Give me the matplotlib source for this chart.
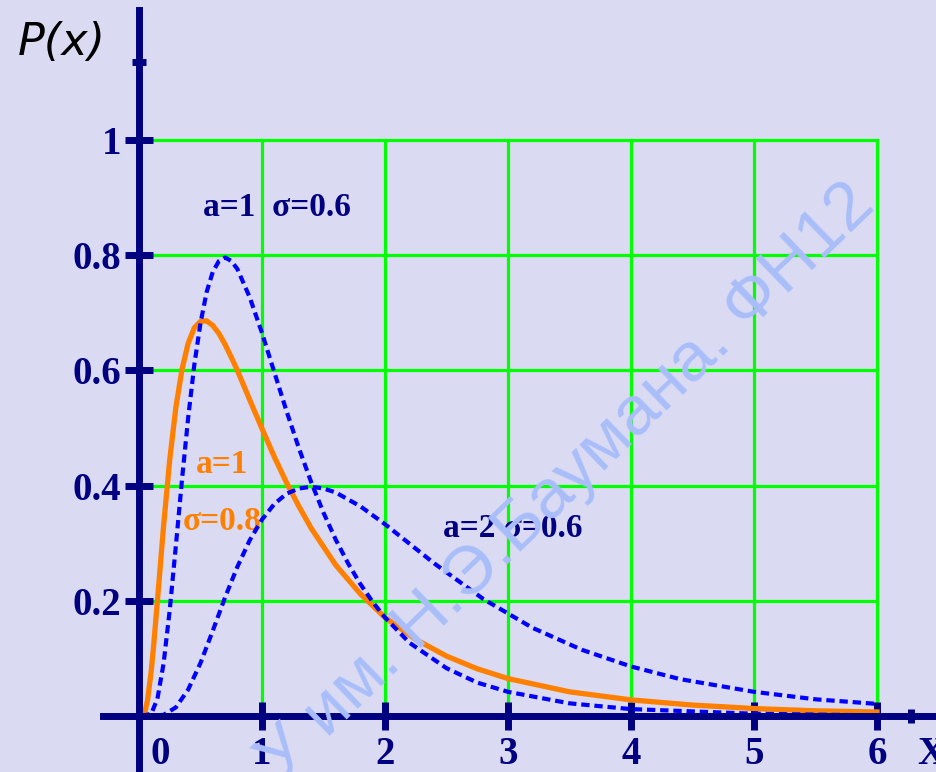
import matplotlib.pyplot as plt

plt.rcParams['lines.scale_dashes'] = False

# lognormal densities P(x)
x_a1 = [0.02, 0.1, 0.15, 0.2, 0.25, 0.3, 0.35, 0.4, 0.45, 0.5, 0.55, 0.6, 0.65,
        0.7, 0.75, 0.8, 0.9, 1.0, 1.1, 1.2, 1.3, 1.4, 1.5, 1.6, 1.7, 1.8, 1.9,
        2.0, 2.2, 2.5, 2.75, 3.0, 3.5, 4.0, 5.0, 6.0]
p_a1 = [0.0, 0.004, 0.030, 0.091, 0.184, 0.296, 0.411, 0.518, 0.610, 0.682,
        0.736, 0.771, 0.790, 0.796, 0.790, 0.776, 0.727, 0.665, 0.597, 0.529,
        0.465, 0.406, 0.353, 0.306, 0.265, 0.229, 0.198, 0.171, 0.127, 0.083,
        0.058, 0.042, 0.022, 0.012, 0.004, 0.001]

x_s08 = [0.02, 0.05, 0.07, 0.1, 0.12, 0.15, 0.17, 0.2, 0.25, 0.3, 0.35, 0.4,
         0.45, 0.5, 0.55, 0.6, 0.65, 0.7, 0.75, 0.8, 0.9, 1.0, 1.1, 1.2, 1.3,
         1.4, 1.6, 1.8, 2.0, 2.25, 2.5, 2.75, 3.0, 3.5, 4.0, 4.5, 5.0, 5.5, 6.0]
p_s08 = [0.0, 0.009, 0.028, 0.079, 0.124, 0.200, 0.252, 0.330, 0.445, 0.536,
         0.602, 0.647, 0.674, 0.685, 0.686, 0.678, 0.664, 0.645, 0.623, 0.600,
         0.549, 0.499, 0.450, 0.405, 0.364, 0.326, 0.262, 0.212, 0.171, 0.133,
         0.104, 0.082, 0.065, 0.042, 0.028, 0.019, 0.013, 0.009, 0.007]

x_a2 = [0.05, 0.2, 0.3, 0.4, 0.5, 0.6, 0.7, 0.8, 0.9, 1.0, 1.1, 1.2, 1.3, 1.4,
        1.5, 1.6, 1.8, 2.0, 2.2, 2.4, 2.8, 3.2, 3.6, 4.0, 4.4, 5.0, 5.5, 6.0]
p_a2 = [0.0, 0.002, 0.015, 0.046, 0.092, 0.148, 0.206, 0.259, 0.305, 0.341,
        0.368, 0.386, 0.395, 0.398, 0.395, 0.388, 0.364, 0.333, 0.299, 0.265,
        0.203, 0.153, 0.115, 0.086, 0.064, 0.042, 0.029, 0.021]

x_ticks = [0, 1, 2, 3, 4, 5, 6]
x_labels = ['0', '1', '2', '3', '4', '5', '6']
y_ticks = [0.2, 0.4, 0.6, 0.8, 1.0]
y_labels = ['0.2', '0.4', '0.6', '0.8', '1']

BG = '#dadaf3'
NAVY = '#000080'
GREEN = '#00ff00'
BLUE = '#0000ff'
ORANGE = '#ff8000'
SERIF = 'Liberation Serif'

fig = plt.figure(figsize=(9.36, 7.72), dpi=100, facecolor=BG)
ax = fig.add_axes([0, 0, 1, 1], facecolor=BG)
ax.set_xlim(-1.13, 6.48)
ax.set_ylim(-0.0972, 1.243)

# green grid over the plotting area
for y in y_ticks:
    ax.plot([x_ticks[0], x_ticks[-1]], [y, y], color=GREEN, lw=2.3, zorder=1)
for x in x_ticks[1:]:
    ax.plot([x, x], [0, y_ticks[-1]], color=GREEN, lw=2.3, zorder=1)

ax.plot(x_s08, p_s08, color=ORANGE, lw=3.8, zorder=3)
ax.plot(x_a1, p_a1, color=BLUE, lw=3.0, dashes=(6, 3.5), zorder=4)
ax.plot(x_a2, p_a2, color=BLUE, lw=3.0, dashes=(6, 3.5), zorder=4)

# axes crossing at the origin
for side in ['top', 'right']:
    ax.spines[side].set_visible(False)
for side in ['left', 'bottom']:
    ax.spines[side].set_position(('data', 0))
    ax.spines[side].set_color(NAVY)
    ax.spines[side].set_linewidth(5)
    ax.spines[side].set_zorder(5)
ax.spines['left'].set_bounds(-0.0972, 1.226)
ax.spines['bottom'].set_bounds(-0.29, 6.48)

ax.set_yticks(y_ticks, labels=y_labels)
ax.set_yticks([1.135], minor=True)
ax.set_xticks(x_ticks[1:], labels=[])
ax.set_xticks([6.28], minor=True)
ax.tick_params(which='major', direction='inout', length=20, width=5,
               color=NAVY, pad=3, labelsize=28, labelcolor=NAVY)
ax.tick_params(which='minor', direction='inout', length=10, width=5,
               color=NAVY)
for lab in ax.get_yticklabels():
    lab.set_fontfamily(SERIF)
    lab.set_fontweight('bold')

for x, lab in zip(x_ticks, x_labels):
    xo = x + 0.17 if x == 0 else x
    ax.text(xo, -0.035, lab, ha='center', va='top', fontsize=28,
            family=SERIF, weight='bold', color=NAVY)
ax.text(6.33, -0.035, 'X', ha='left', va='top', fontsize=28,
        family=SERIF, weight='bold', color=NAVY)

ax.text(-0.985, 1.17, 'P(x)', ha='left', va='center', fontsize=32,
        family='DejaVu Sans', style='italic', color='black')

ax.text(0.52, 0.882, 'a=1  σ=0.6', ha='left', va='center', fontsize=24,
        family=SERIF, weight='bold', color=NAVY)
ax.text(0.463, 0.437, 'a=1', ha='left', va='center', fontsize=24,
        family=SERIF, weight='bold', color=ORANGE)
ax.text(0.358, 0.338, 'σ=0.8', ha='left', va='center', fontsize=24,
        family=SERIF, weight='bold', color=ORANGE)
ax.text(2.47, 0.326, 'a=2 σ=0.6', ha='left', va='center', fontsize=24,
        family=SERIF, weight='bold', color=NAVY)

ax.text(3.48, 0.405, 'У им. Н.Э.Баумана. ФН12', ha='center', va='center',
        rotation=44, rotation_mode='anchor', fontsize=50,
        family='Liberation Sans', color='#a9bef9', zorder=10)

fig.savefig('out.png', dpi=100, facecolor=BG)
